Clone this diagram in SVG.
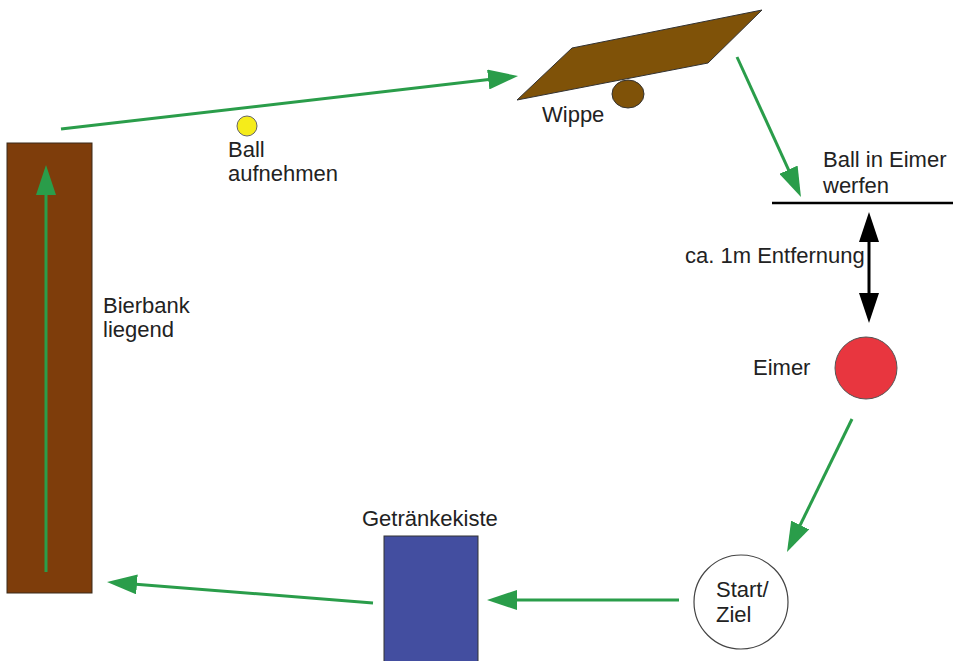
<svg xmlns="http://www.w3.org/2000/svg" width="958" height="661" viewBox="0 0 958 661">
<style>
text{font-family:"Liberation Sans",Arial,sans-serif;font-size:22px;fill:#222}
.g{stroke:#2a9d4a;stroke-width:3;fill:none;marker-end:url(#ga)}
</style>
<defs>
<marker id="ga" viewBox="0 0 30 20" refX="20" refY="10" markerWidth="30" markerHeight="20" markerUnits="userSpaceOnUse" orient="auto"><path d="M0,0L30,10L0,20z" fill="#2a9d4a"/></marker>
<marker id="ba" viewBox="0 0 30 20" refX="20" refY="10" markerWidth="30" markerHeight="20" markerUnits="userSpaceOnUse" orient="auto-start-reverse"><path d="M0,0L30,10L0,20z" fill="#000"/></marker>
</defs>
<rect width="958" height="661" fill="#fff"/>
<g id="bierbank"><rect x="7" y="143" width="85" height="450" fill="#7e3d0b" stroke="#3a2a1a" stroke-width="1"/><text x="103" y="313">Bierbank</text><text x="103" y="337">liegend</text></g>
<g id="ball"><circle cx="247" cy="126" r="10" fill="#f5ec1a" stroke="#666" stroke-width="1"/><text x="228" y="157">Ball</text><text x="228" y="181">aufnehmen</text></g>
<g id="wippe"><ellipse cx="628" cy="94" rx="16" ry="14" fill="#7f5208" stroke="#333" stroke-width="1"/><path d="M517,100L572,48L762,10L708,63Z" fill="#7f5208" stroke="#333" stroke-width="1"/><text x="542" y="122">Wippe</text></g>
<g id="wurflinie"><line x1="772" y1="203" x2="953" y2="203" stroke="#000" stroke-width="2.5"/><text x="823" y="167">Ball in Eimer</text><text x="823" y="193">werfen</text></g>
<g id="eimer"><circle cx="866" cy="368" r="31" fill="#e8363f" stroke="#555" stroke-width="1"/><text x="753" y="375">Eimer</text></g>
<g id="start"><circle cx="741" cy="602" r="47" fill="#fff" stroke="#444" stroke-width="1.2"/><text x="716" y="597">Start/</text><text x="716" y="622">Ziel</text></g>
<g id="kiste"><rect x="384" y="536" width="94" height="130" fill="#434ea0" stroke="#333" stroke-width="1"/><text x="362" y="526">Getränkekiste</text></g>
<g id="connectors">
<path class="g" d="M61,129L508.1,77.2"/>
<path class="g" d="M737,57L796.8,187.9"/>
<path class="g" d="M852,419L791.4,543"/>
<path class="g" d="M679,600L497,600"/>
<path class="g" d="M373,603L117,582.8"/>
<path class="g" d="M46,572L46,175"/>
<line x1="869" y1="222" x2="869" y2="313" stroke="#000" stroke-width="3" marker-start="url(#ba)" marker-end="url(#ba)"/>
<text x="685" y="263">ca. 1m Entfernung</text>
</g>
</svg>
